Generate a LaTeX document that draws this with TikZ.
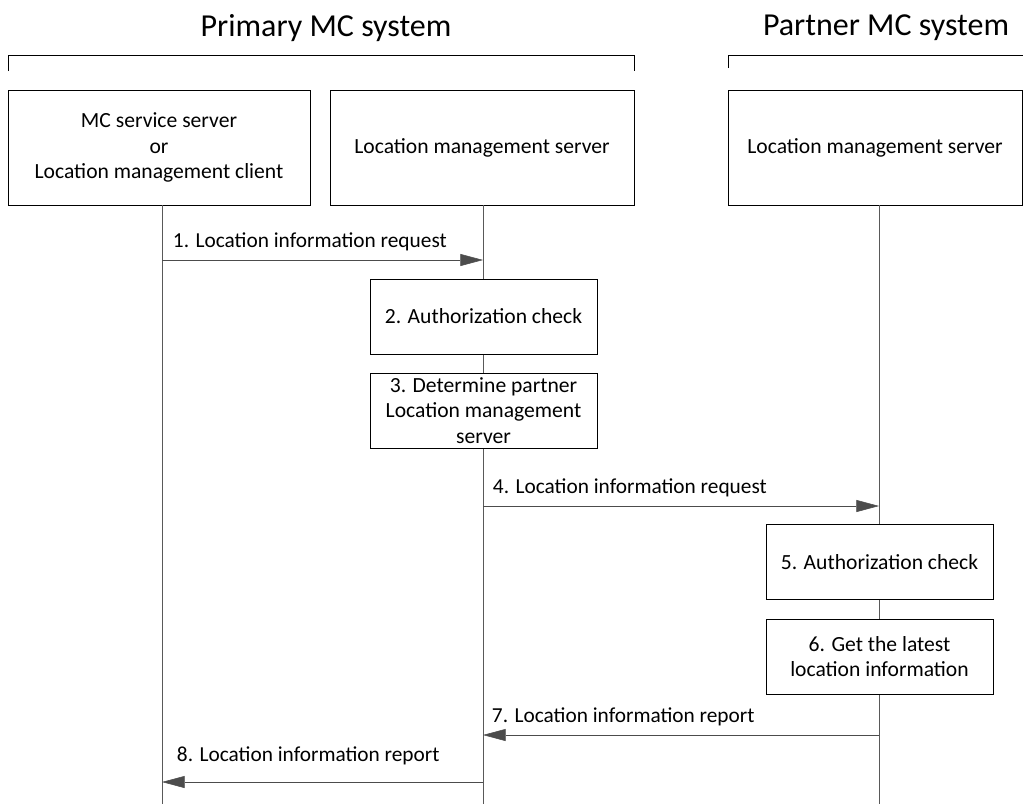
\documentclass[tikz,border=0pt]{standalone}
\usepackage{fontspec}
\setmainfont{Carlito}
\usetikzlibrary{arrows.meta}

\begin{document}
\begin{tikzpicture}[x=0.75pt, y=-0.75pt,
	entity/.style={draw, thin, minimum height=86.25pt, align=center, font=\fontsize{16.2}{19}\selectfont, inner sep=0pt},
	action/.style={draw, thin, minimum width=170.25pt, minimum height=56.25pt, align=center, font=\fontsize{16.2}{19}\selectfont, inner sep=0pt},
	lifeline/.style={draw, black!65, thin},
	msg/.style={draw, black!70, thin, -{Triangle[length=17pt, width=9pt]}},
	msglabel/.style={anchor=south west, inner sep=2pt, font=\fontsize{16}{19}\selectfont},
	systitle/.style={font=\fontsize{24}{28}\selectfont}]
	\useasboundingbox (0, 0) rectangle (1023, 804);
	% Titles and brackets:
	\node[systitle] (primary) at (326, 28){Primary MC system};
	\node[systitle] (partner) at (886, 28){Partner MC system};
	\draw (8, 71) -- (8, 55) -- (634, 55) -- (634, 71);
	\draw (728, 68) -- (728, 55) -- (1023, 55);
	% Entities:
	\node[entity, minimum width=226.5pt] (mcs) at (159, 147.5){MC service server\\or\\Location management client};
	\node[entity, minimum width=228pt] (lms) at (482, 147.5){Location management server};
	\node[entity, minimum width=220.5pt] (plms) at (875, 147.5){Location management server};
	% Lifelines:
	\coordinate (mcsend) at (162, 804);
	\coordinate (lmsend) at (483, 804);
	\coordinate (plmsend) at (879, 804);
	\draw[lifeline] (162, 205) -- (mcsend);
	\draw[lifeline] (483, 205) -- (lmsend);
	\draw[lifeline] (879, 205) -- (plmsend);
	% Actions:
	\node[action, fill=white] (auth) at (483.5, 316.5){2. Authorization check};
	\node[action, fill=white] (determine) at (483.5, 410.5){3. Determine partner\\Location management\\server};
	\node[action, fill=white] (pauth) at (879.5, 562){5. Authorization check};
	\node[action, fill=white] (latest) at (879.5, 656.5){6. Get the latest\\location information};
	% Messages:
	\coordinate (m1a) at (162, 260);
	\coordinate (m1b) at (483, 260);
	\coordinate (m4a) at (483, 506);
	\coordinate (m4b) at (879, 506);
	\coordinate (m7a) at (879, 735);
	\coordinate (m7b) at (483, 735);
	\coordinate (m8a) at (483, 782);
	\coordinate (m8b) at (162, 782);
	\draw[msg] (m1a) -- (m1b);
	\draw[msg] (m4a) -- (m4b);
	\draw[msg] (m7a) -- (m7b);
	\draw[msg] (m8a) -- (m8b);
	\node[msglabel] (l1) at (170, 254){1. Location information request};
	\node[msglabel] (l4) at (490, 500){4. Location information request};
	\node[msglabel] (l7) at (489, 729){7. Location information report};
	\node[msglabel] (l8) at (174, 768){8. Location information report};
\end{tikzpicture}
\end{document}
